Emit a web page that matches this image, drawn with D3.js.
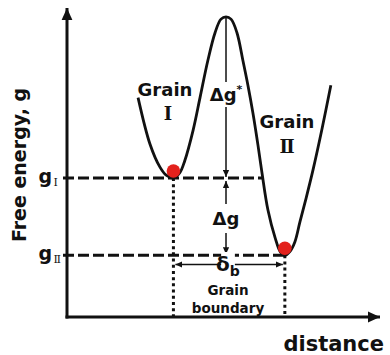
<!DOCTYPE html>
<html>
<head>
<meta charset="utf-8">
<script src="https://cdn.jsdelivr.net/npm/d3@7"></script>
<style>
    body { margin: 0; background: #fff; }
    text { font-family: "DejaVu Sans", Verdana, sans-serif; font-weight: bold; fill: #111; }
    .roman { font-family: "DejaVu Serif", "Liberation Serif", serif; font-weight: bold; }
    .sub { font-family: "DejaVu Serif", "Liberation Serif", serif; font-weight: normal; }
</style>
</head>
<body>
<div id="chart"></div>
<script>
// free energy profile across the two grains: [distance, g]
const profile = [
    [22.7, 71], [26.5, 56], [29.7, 48.5], [31.8, 45.8], [34, 45], [36, 46.6], [37.6, 50.5],
    [40.3, 60.5], [42.5, 71], [45, 83], [47.3, 92], [49.2, 96.4], [50.8, 97.1],
    [52.4, 96.4], [54.3, 92], [56.2, 83], [57.8, 75], [59.4, 66], [61, 55.7],
    [62.3, 46.6], [64.2, 34.6], [66.5, 25.6], [68.2, 21], [69.6, 20], [71.2, 21.2],
    [72.8, 24.3], [74.4, 30.7], [76.4, 38.5], [78.6, 47.6], [81.5, 61], [84.3, 75]
]

// the two grain minima: numeral, position, level, where the dashed level line stops
const wellNames = ['Ⅰ', 'Ⅱ']
const wellDist = [34, 69.6]
const wellG = [45, 20]
const dashEnd = [62.4, 69.6]

const peakDist = 50.8
const peakG = 97
const boundaryG = 17     // height of the delta_b arrow

const xLabel = 'distance'
const yLabel = 'Free energy, g'

const cfg = {
    w: 390,
    h: 355,
    x0: 67, x1: 380,   // axis extent
    y0: 317, y1: 8,
    red: '#e3211c'
}

const svg = d3.select('#chart')
    .append('svg')
    .attr('width', cfg.w)
    .attr('height', cfg.h)

const x = d3.scaleLinear().domain([0, 100]).range([cfg.x0, cfg.x1])
const y = d3.scaleLinear().domain([0, 100]).range([cfg.y0, cfg.y1])

// arrow markers
const defs = svg.append('defs')
defs.append('marker')
    .attr('id', 'big')
    .attr('viewBox', '0 0 10 10')
    .attr('refX', 10).attr('refY', 5)
    .attr('markerUnits', 'userSpaceOnUse')
    .attr('markerWidth', 13).attr('markerHeight', 12)
    .attr('orient', 'auto')
    .append('path').attr('d', 'M0,0.5L10,5L0,9.5z').attr('fill', '#111')
defs.append('marker')
    .attr('id', 'small')
    .attr('viewBox', '0 0 10 10')
    .attr('refX', 10).attr('refY', 5)
    .attr('markerUnits', 'userSpaceOnUse')
    .attr('markerWidth', 7).attr('markerHeight', 7)
    .attr('orient', 'auto-start-reverse')
    .append('path').attr('d', 'M0,0.5L10,5L0,9.5z').attr('fill', '#111')

// axes
svg.append('line')
    .attr('x1', x(0)).attr('y1', y(0) + 1.5)
    .attr('x2', x(0)).attr('y2', y(100))
    .attr('stroke', '#111').attr('stroke-width', 3)
    .attr('marker-end', 'url(#big)')
svg.append('line')
    .attr('x1', x(0) - 1.5).attr('y1', y(0))
    .attr('x2', x(100)).attr('y2', y(0))
    .attr('stroke', '#111').attr('stroke-width', 3)
    .attr('marker-end', 'url(#big)')

// dashed level lines and dotted drops
wellG.forEach((g, i) => {
    svg.append('line')
        .attr('x1', x(0) - 4).attr('x2', x(dashEnd[i]))
        .attr('y1', y(g)).attr('y2', y(g))
        .attr('stroke', '#111').attr('stroke-width', 3)
        .attr('stroke-dasharray', '11,4')
    svg.append('line')
        .attr('x1', x(wellDist[i])).attr('x2', x(wellDist[i]))
        .attr('y1', y(g)).attr('y2', y(0))
        .attr('stroke', '#111').attr('stroke-width', 3)
        .attr('stroke-dasharray', '3,3.2')
})

// the profile curve
const line = d3.line()
    .x(d => x(d[0]))
    .y(d => y(d[1]))
    .curve(d3.curveCatmullRom)

svg.append('path')
    .datum(profile)
    .attr('fill', 'none')
    .attr('stroke', '#111')
    .attr('stroke-width', 2.8)
    .attr('d', line)

// thin measurement arrows
const arrow = (x1, y1, x2, y2, both) => svg.append('line')
    .attr('x1', x1).attr('y1', y1).attr('x2', x2).attr('y2', y2)
    .attr('stroke', '#111').attr('stroke-width', 1.5)
    .attr('marker-end', 'url(#small)')
    .attr('marker-start', both ? 'url(#small)' : null)

arrow(x(peakDist), y(peakG), x(peakDist), y(wellG[0]) - 1)
arrow(x(peakDist), y(wellG[0]) + 3, x(peakDist), y(wellG[1]) - 1, true)
arrow(x(wellDist[0]) + 2, y(boundaryG), x(wellDist[1]) - 2, y(boundaryG), true)

// text with a white patch behind it
const label = (tx, ty, size, str, pad) => {
    const t = svg.append('text')
        .attr('x', tx).attr('y', ty)
        .attr('text-anchor', 'middle')
        .style('font-size', size + 'px')
        .text(str)
    if (pad !== undefined) {
        const b = t.node().getBBox()
        svg.insert('rect', () => t.node())
            .attr('x', b.x - pad).attr('y', b.y - pad)
            .attr('width', b.width + 2 * pad).attr('height', b.height + 2 * pad)
            .attr('fill', '#fff')
    }
    return t
}

const dgs = label(x(peakDist), 101, 18, 'Δg', 2)
dgs.append('tspan').attr('dy', -8).style('font-size', '11px').text('*')
label(x(peakDist), 225, 18, 'Δg', 4)
const db = label(x(peakDist) + 2, 271, 20, 'δ', 0)
db.append('tspan').attr('dy', 5).style('font-size', '14px').text('b')
label(x(peakDist) + 2, 295, 13.5, 'Grain')
label(x(peakDist) + 2, 313, 13.5, 'boundary')

// grain names
label(165, 96, 18, 'Grain')
label(168, 120, 18, wellNames[0]).attr('class', 'roman')
label(287, 128, 18, 'Grain')
label(287, 153, 18, wellNames[1]).attr('class', 'roman')

// level labels g_I, g_II
wellG.forEach((g, i) => {
    svg.append('text')
        .attr('x', 52).attr('y', y(g) + 5)
        .attr('text-anchor', 'end')
        .style('font-size', '19px')
        .text('g')
    svg.append('text')
        .attr('class', 'sub')
        .attr('x', 53.5).attr('y', y(g) + 8)
        .style('font-size', '11px')
        .text(wellNames[i])
})

// red dots sitting in the wells
svg.selectAll('.dot')
    .data(wellDist)
    .enter()
    .append('circle')
    .attr('class', 'dot')
    .attr('cx', d => x(d))
    .attr('cy', (d, i) => y(wellG[i]) - 7)
    .attr('r', 6.8)
    .attr('fill', cfg.red)

// axis titles
svg.append('text')
    .attr('transform', 'translate(26,165) rotate(-90)')
    .attr('text-anchor', 'middle')
    .style('font-size', '19px')
    .text(yLabel)
svg.append('text')
    .attr('x', 384).attr('y', 351)
    .attr('text-anchor', 'end')
    .style('font-size', '21px')
    .text(xLabel)
</script>
</body>
</html>
